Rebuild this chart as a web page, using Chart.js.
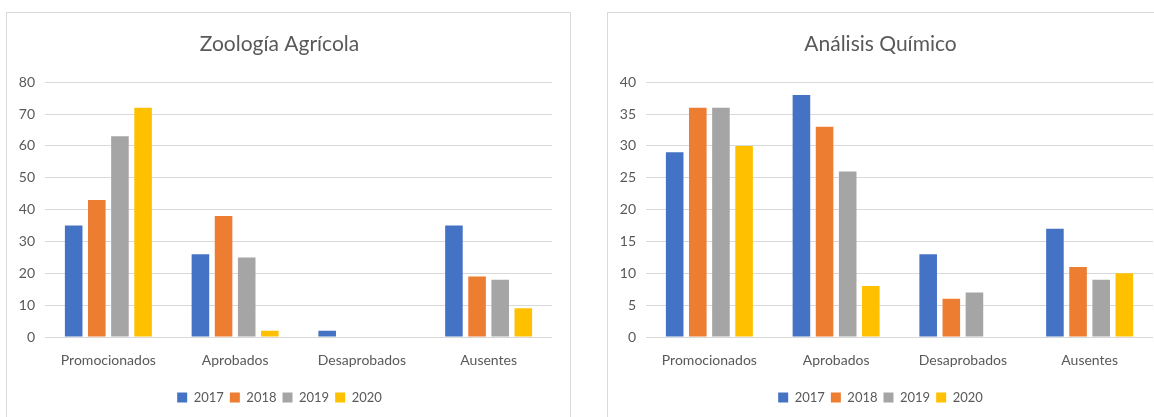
<!DOCTYPE html>
<html>
<head>
<meta charset="utf-8">
<script src="https://cdn.jsdelivr.net/npm/chart.js"></script>
<style>
  html, body { margin: 0; padding: 0; background: #ffffff; }
  body { width: 1154px; height: 417px; position: relative; overflow: hidden; }
  .panel {
    position: absolute;
    top: 12px;
    width: 563px;
    height: 420px;
    border: 1px solid #d9d9d9;
    background: #ffffff;
  }
  .panel canvas { display: block; }
</style>
</head>
<body>
<div class="panel" style="left: 6px;"><canvas id="chartZoologia" width="563" height="404"></canvas></div>
<div class="panel" style="left: 607px;"><canvas id="chartQuimico" width="563" height="404"></canvas></div>

<script>
// categories and series
const categories = ["Promocionados", "Aprobados", "Desaprobados", "Ausentes"];
const years = ["2017", "2018", "2019", "2020"];
const yearColors = ["#4472C4", "#ED7D31", "#A5A5A5", "#FFC000"];

// Zoología Agrícola
const zoologia2017 = [35, 26, 2, 35];
const zoologia2018 = [43, 38, 0, 19];
const zoologia2019 = [63, 25, 0, 18];
const zoologia2020 = [72, 2, 0, 9];

// Análisis Químico
const quimico2017 = [29, 38, 13, 17];
const quimico2018 = [36, 33, 6, 11];
const quimico2019 = [36, 26, 7, 9];
const quimico2020 = [30, 8, 0, 10];

const textColor = "#595959";
const gridColor = "#d9d9d9";
const fontName = "Lato";

Chart.defaults.font.family = fontName;
Chart.defaults.color = textColor;

function makeChart(canvasId, title, seriesList, yMax, yStep) {
  const datasets = seriesList.map((values, i) => {
    return {
      label: years[i],
      data: values,
      backgroundColor: yearColors[i],
      borderWidth: 0,
      categoryPercentage: 0.73,
      barPercentage: 0.76
    };
  });

  return new Chart(document.getElementById(canvasId), {
    type: 'bar',
    data: {
      labels: categories,
      datasets: datasets
    },
    options: {
      responsive: false,
      animation: false,
      layout: {
        padding: { top: 0, left: 0, right: 18, bottom: 3 }
      },
      plugins: {
        title: {
          display: true,
          text: title,
          color: textColor,
          font: { family: fontName, size: 21, weight: 'normal' },
          padding: { top: 19, bottom: 25 }
        },
        legend: {
          display: true,
          position: 'bottom',
          labels: {
            color: textColor,
            font: { family: fontName, size: 13 },
            boxWidth: 10,
            boxHeight: 10,
            padding: 6
          }
        },
        tooltip: { enabled: false }
      },
      scales: {
        x: {
          grid: { display: false, drawTicks: false },
          border: { display: false },
          ticks: {
            color: textColor,
            font: { family: fontName, size: 14 },
            padding: 15,
            maxRotation: 0
          },
          afterFit: (scale) => { scale.height = 48; }
        },
        y: {
          min: 0,
          max: yMax,
          grid: { color: gridColor, lineWidth: 1, drawTicks: false },
          border: { display: false },
          ticks: {
            stepSize: yStep,
            color: textColor,
            font: { family: fontName, size: 14 },
            padding: 10
          },
          afterFit: (scale) => { scale.width = 38; }
        }
      }
    }
  });
}

makeChart("chartZoologia", "Zoología Agrícola",
  [zoologia2017, zoologia2018, zoologia2019, zoologia2020], 80, 10);

makeChart("chartQuimico", "Análisis Químico",
  [quimico2017, quimico2018, quimico2019, quimico2020], 40, 5);
</script>
</body>
</html>
